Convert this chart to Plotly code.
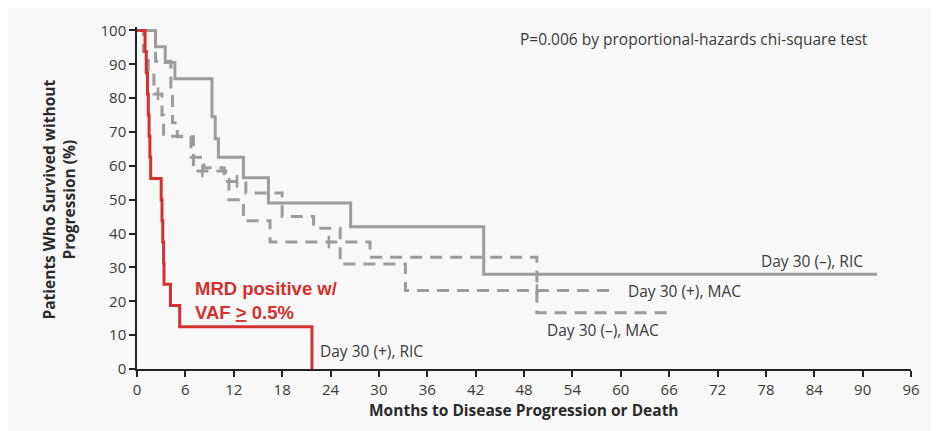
import plotly.graph_objects as go

# ---- data (months, % progression-free) ----
ric_pos_t = [0, 1.0, 1.15, 1.3, 1.4, 1.5, 1.6, 1.7, 3.0, 3.1, 3.2, 3.3, 3.35, 4.15, 5.3, 21.7]
ric_pos_s = [100, 93.75, 87.5, 81.25, 75, 68.75, 62.5, 56.25, 50, 43.75, 37.5, 31.25, 25, 18.75, 12.5, 0]

ric_neg_t = [0, 2.3, 3.5, 4.7, 9.3, 9.7, 10.1, 13.2, 16.3, 26.5, 43.0, 91.8]
ric_neg_s = [100, 95.2, 90.5, 85.7, 74.5, 68, 62.5, 56.5, 49, 42, 28, 28]

mac_neg_t = [0, 0.8, 1.4, 2.1, 3.1, 3.3, 6.7, 8.3, 10.8, 11.4, 13.2, 16.5, 28.9, 49.6, 65.7]
mac_neg_s = [100, 93.75, 87.5, 81.25, 75, 68.75, 62.5, 59.4, 56, 50, 43.75, 37.5, 33, 16.6, 16.6]

mac_pos_t = [0, 2.3, 4.2, 4.4, 5.0, 7.0, 11.0, 13.5, 18.0, 21.9, 25.2, 33.3, 59.5]
mac_pos_s = [100, 90.9, 81.8, 72.7, 68.6, 58.5, 55.4, 52, 45, 41.6, 31, 23.2, 23.2]

# censor marks
mac_neg_cens_t = [2.6, 23.8]
mac_neg_cens_s = [81.25, 37.5]
mac_pos_cens_t = [8.1, 12.4, 49.6]
mac_pos_cens_s = [58.5, 55.4, 23.2]

x_ticks = list(range(0, 97, 6))
y_ticks = list(range(0, 101, 10))

GRAY = "#9c9c9c"
RED = "#d3302e"
TXT = "#3a3a3a"
FONT = "Open Sans"

fig = go.Figure()

fig.add_trace(go.Scatter(x=ric_neg_t, y=ric_neg_s, mode="lines", line_shape="hv",
                         line=dict(color=GRAY, width=3), showlegend=False))
fig.add_trace(go.Scatter(x=mac_neg_t, y=mac_neg_s, mode="lines", line_shape="hv",
                         line=dict(color=GRAY, width=3, dash="12px,8px"), showlegend=False))
fig.add_trace(go.Scatter(x=mac_pos_t, y=mac_pos_s, mode="lines", line_shape="hv",
                         line=dict(color=GRAY, width=3, dash="12px,8px"), showlegend=False))
fig.add_trace(go.Scatter(x=mac_neg_cens_t + mac_pos_cens_t, y=mac_neg_cens_s + mac_pos_cens_s,
                         mode="markers",
                         marker=dict(symbol="line-ns", size=9, line=dict(color=GRAY, width=2.5)),
                         showlegend=False))
fig.add_trace(go.Scatter(x=ric_pos_t, y=ric_pos_s, mode="lines", line_shape="hv",
                         line=dict(color=RED, width=3), showlegend=False))

ann_font = dict(family=FONT, size=15.5, color=TXT)
anns = [
    dict(x=47.2, y=97.6, text="P=0.006 by proportional-hazards chi-square test",
         xanchor="left", yanchor="middle", font=ann_font),
    dict(x=90.3, y=32, text="Day 30 (\u2013), RIC", xanchor="right", yanchor="middle", font=ann_font),
    dict(x=60.7, y=22.9, text="Day 30 (+), MAC", xanchor="left", yanchor="middle", font=ann_font),
    dict(x=50.6, y=11.5, text="Day 30 (\u2013), MAC", xanchor="left", yanchor="middle", font=ann_font),
    dict(x=22.5, y=5.2, text="Day 30 (+), RIC", xanchor="left", yanchor="middle", font=ann_font),
    dict(x=7.0, y=20.3, text="<b>MRD positive w/<br>VAF <u>></u> 0.5%</b>", xanchor="left",
         yanchor="middle", align="left",
         font=dict(family="Liberation Sans", size=18.5, color=RED)),
    dict(x=-0.101, xref="paper", y=50, text="<b>Patients Who Survived without<br>Progression (%)</b>",
         textangle=-90, xanchor="center", yanchor="middle",
         font=dict(family=FONT, size=15.5, color="#2a2a2a")),
    dict(x=48, y=-0.121, yref="paper", text="<b>Months to Disease Progression or Death</b>",
         xanchor="center", yanchor="middle", font=dict(family=FONT, size=15.5, color="#2a2a2a")),
]
for a in anns:
    a.setdefault("xref", "x")
    a.setdefault("yref", "y")
    a["showarrow"] = False
fig.update_layout(annotations=anns)

# the page body adds an 8px offset; margins compensate so the plot area sits at x 137-911, y 24-369
fig.update_layout(
    width=939, height=431,
    margin=dict(l=129, r=36, t=16, b=70),
    paper_bgcolor="#f8f8f8", plot_bgcolor="#f8f8f8",
    font=dict(family=FONT, size=15, color=TXT),
    showlegend=False,
)
fig.update_xaxes(range=[0, 96], tickvals=x_ticks, ticktext=[str(v) for v in x_ticks],
                 showgrid=False, zeroline=False, showline=True, linecolor="#222", linewidth=1.5,
                 ticks="outside", ticklen=6, tickcolor="#222", tickwidth=1.5,
                 tickfont=dict(family=FONT, size=15, color=TXT))
fig.update_yaxes(range=[0, 101], tickvals=y_ticks, ticktext=[str(v) for v in y_ticks],
                 showgrid=False, zeroline=False, showline=True, linecolor="#222", linewidth=1.5,
                 ticks="outside", ticklen=6, tickcolor="#222", tickwidth=1.5,
                 tickfont=dict(family=FONT, size=15, color=TXT))

fig.write_html("out.html")
